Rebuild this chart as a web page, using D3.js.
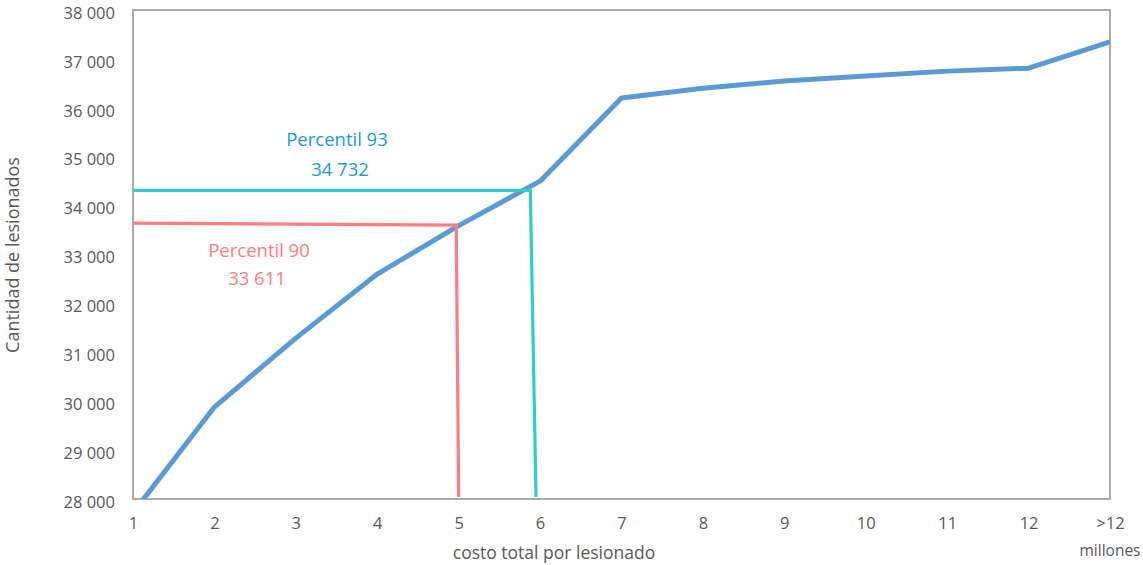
<!DOCTYPE html>
<html><head><meta charset="utf-8">
<script src="https://cdn.jsdelivr.net/npm/d3@7"></script>
<style>body{margin:0;background:#fff;} text{font-family:"Open Sans",sans-serif;}</style>
</head><body>
<svg id="c" width="1143" height="565"></svg>
<script>
const xCats = [1,2,3,4,5,6,7,8,9,10,11,12,13];
const xLabels = ["1","2","3","4","5","6","7","8","9","10","11","12",">12"];
const lesionados = [27720,29880,31290,32600,33590,34500,36200,36400,36550,36650,36750,36810,37350];
const yTicks = [28000,29000,30000,31000,32000,33000,34000,35000,36000,37000,38000];
// reference lines: [x at top, x at bottom, y level]
const p90 = {xTop:4.97, xBot:5.0, yLeft:33640, yRight:33600, label:"Percentil 90", value:"33 611"};
const p93 = {xTop:5.88, xBot:5.95, yLeft:34310, yRight:34310, label:"Percentil 93", value:"34 732"};

const svg = d3.select("#c");
const m = {l:133, r:1110, t:10, b:499};
const x = d3.scaleLinear().domain([1,13]).range([m.l,m.r]);
const y = d3.scaleLinear().domain([28000,38000]).range([m.b,m.t]);
const fmt = v => d3.format(",")(v).replace(/,/g," ");

svg.append("defs").append("clipPath").attr("id","clip")
  .append("rect").attr("x",m.l).attr("y",m.t).attr("width",m.r-m.l).attr("height",m.b-m.t);

const yAxis = d3.axisLeft(y).tickValues(yTicks).tickSize(0).tickPadding(18).tickFormat(fmt);
const ga = svg.append("g").attr("transform",`translate(${m.l},0)`).call(yAxis);
ga.select(".domain").remove();
ga.selectAll("text").attr("fill","#595959").style("font-size","16.5px").style("font-family","Open Sans").attr("dy","0.5em");

const xAxis = d3.axisBottom(x).tickValues(xCats).tickSize(0).tickPadding(18).tickFormat((d,i)=>xLabels[i]);
const gx = svg.append("g").attr("transform",`translate(0,${m.b})`).call(xAxis);
gx.select(".domain").remove();
gx.selectAll("text").attr("fill","#595959").style("font-size","16.5px").style("font-family","Open Sans");

svg.append("rect").attr("x",m.l).attr("y",m.t).attr("width",m.r-m.l).attr("height",m.b-m.t)
  .attr("fill","none").attr("stroke","#ababab").attr("stroke-width",2);

svg.append("path").datum(lesionados).attr("clip-path","url(#clip)")
  .attr("d", d3.line().x((d,i)=>x(xCats[i])).y(d=>y(d)))
  .attr("fill","none").attr("stroke","#5b9bd5").attr("stroke-width",5).attr("stroke-linejoin","round");

function refLine(p, color){
  svg.append("path")
    .attr("d", d3.line()([[x(1),y(p.yLeft)],[x(p.xTop),y(p.yRight)],[x(p.xBot),y(28000)-2]]))
    .attr("fill","none").attr("stroke",color).attr("stroke-width",3.2);
}
refLine(p90,"#ff7c80");
refLine(p93,"#33cccc");

function ann(text, cx, cy, color){
  svg.append("text").attr("x",cx).attr("y",cy).attr("text-anchor","middle")
    .attr("fill",color).style("font-size","18.5px").text(text);
}
ann(p93.label, 337, 146, "#1b9bd0");
ann(p93.value, 340, 176, "#1b9bd0");
ann(p90.label, 259, 257, "#ff7c80");
ann(p90.value, 257, 285, "#ff7c80");

svg.append("text").attr("x",554).attr("y",559).attr("text-anchor","middle")
  .attr("fill","#595959").style("font-size","17.5px").text("costo total por lesionado");
svg.append("text").attr("x",1110).attr("y",556).attr("text-anchor","middle")
  .attr("fill","#595959").style("font-size","15.5px").text("millones");
svg.append("text").attr("transform","translate(19,255) rotate(-90)").attr("text-anchor","middle")
  .attr("fill","#595959").style("font-size","18px").text("Cantidad de lesionados");
</script>
</body></html>
